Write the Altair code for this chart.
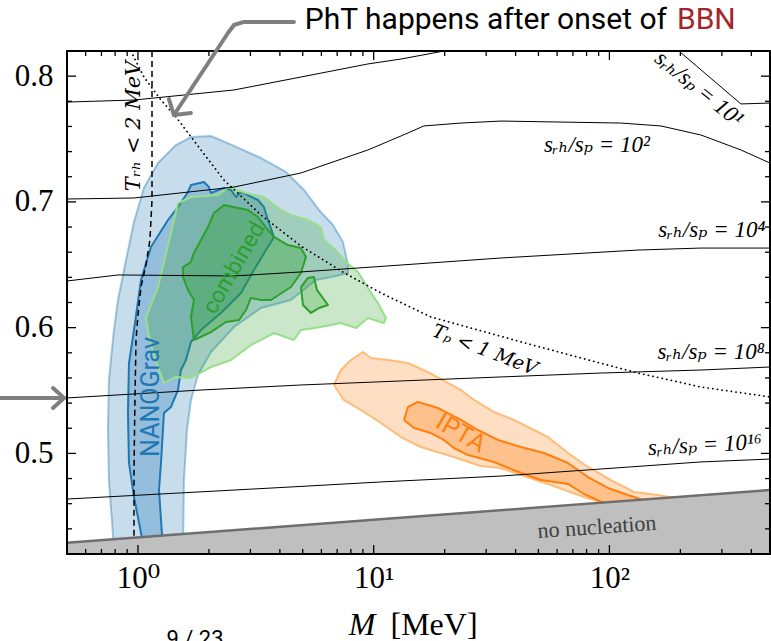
import altair as alt
import pandas as pd

# ---------------- data (M in MeV, y = vertical axis value) ----------------
nano_out_M = [0.791, 0.753, 0.746, 0.753, 0.791, 0.823, 0.881, 0.962, 1.060, 1.216, 1.450, 1.678, 2.040, 2.555,
              3.324, 4.245, 5.060, 5.857, 6.718, 7.406, 7.777, 7.777, 6.917, 5.690, 4.457, 3.324, 2.555, 2.040,
              1.797, 1.678, 1.614, 1.567, 1.552]
nano_out_y = [0.425, 0.4788, 0.5186, 0.5584, 0.5981, 0.622, 0.6498, 0.684, 0.7111, 0.7309, 0.7452, 0.7516, 0.7524,
              0.7445, 0.7349, 0.7238, 0.7095, 0.6936, 0.6816, 0.6681, 0.6498, 0.6435, 0.6411, 0.6379, 0.622, 0.6156,
              0.6005, 0.5806, 0.5623, 0.5425, 0.5186, 0.4788, 0.425]

nano_in_M = [1.060, 0.962, 0.916, 0.907, 0.916, 0.962, 1.030, 1.135, 1.341, 1.478, 1.630, 1.678, 1.905, 2.001,
             2.040, 2.316, 2.480, 2.605, 2.735, 3.228, 3.423, 3.560, 3.775, 3.105, 2.735, 2.249, 1.850, 1.678,
             1.598, 1.522, 1.478, 1.380, 1.289, 1.252, 1.228, 1.276]
nano_in_y = [0.425, 0.4653, 0.4924, 0.5321, 0.5719, 0.5981, 0.6379, 0.6641, 0.6856, 0.6959, 0.7079, 0.7134, 0.7158,
             0.7118, 0.7071, 0.7111, 0.7095, 0.7039, 0.7079, 0.7015, 0.6959, 0.6856, 0.6721, 0.6458, 0.6276, 0.6117,
             0.5981, 0.5886, 0.5743, 0.5663, 0.5504, 0.5369, 0.5321, 0.4924, 0.4709, 0.425]

comb_out_M = [1.102, 1.081, 1.216, 1.380, 1.478, 1.678, 2.184, 2.432, 2.872, 3.423, 4.043, 4.457, 5.262, 5.973,
              6.152, 6.917, 7.627, 8.575, 9.454, 10.42, 11.27, 11.05, 9.454, 8.41, 7.26, 5.973, 4.914, 4.587,
              3.775, 3.016, 2.480, 2.040, 1.678, 1.450, 1.289, 1.216, 1.135]
comb_out_y = [0.5981, 0.6077, 0.6323, 0.6753, 0.6991, 0.7039, 0.7055, 0.7118, 0.7071, 0.7039, 0.6936, 0.6896,
              0.6856, 0.680, 0.6697, 0.6617, 0.6522, 0.6443, 0.6315, 0.6196, 0.6077, 0.6037, 0.6077, 0.5997,
              0.6037, 0.6005, 0.5981, 0.5902, 0.5957, 0.5862, 0.5743, 0.5687, 0.560, 0.5608, 0.556, 0.5687, 0.5862]

comb_in_M = [1.728, 1.678, 1.728, 1.630, 1.552, 1.552, 1.678, 1.728, 1.850, 1.981, 2.101, 2.316, 2.928, 3.228,
             3.560, 3.775, 4.328, 4.914, 5.160, 4.914, 4.457, 3.666, 3.324, 3.016, 2.872, 2.682, 2.362, 2.040]
comb_in_y = [0.5902, 0.6085, 0.622, 0.630, 0.6403, 0.6482, 0.6522, 0.6594, 0.6697, 0.680, 0.6912, 0.6975, 0.6936,
             0.688, 0.6777, 0.6721, 0.6657, 0.6633, 0.6562, 0.6435, 0.6323, 0.622, 0.622, 0.6236, 0.614, 0.606,
             0.6045, 0.5965]

island_M = [4.914, 5.262, 5.579, 5.745, 6.397, 5.857, 5.418, 5.012]
island_y = [0.6323, 0.6395, 0.6403, 0.630, 0.618, 0.6156, 0.6117, 0.618]

ipta_out_M = [6.784, 7.26, 8.01, 9.004, 9.734, 11.49, 13.98, 16.99, 20.65, 23.45, 26.62, 32.36, 39.35, 47.84,
              54.86, 66.7, 81.1, 101.5, 127.1, 160.6, 211.2, 150.0, 101.5, 78.0, 56.5, 42.14, 34.67, 28.51,
              21.89, 15.86, 13.05, 10.73, 8.83, 7.477]
ipta_out_y = [0.5544, 0.5663, 0.5743, 0.5806, 0.5759, 0.5743, 0.5719, 0.5647, 0.556, 0.5504, 0.5425, 0.5329,
              0.5266, 0.5186, 0.513, 0.5003, 0.4892, 0.4788, 0.4693, 0.4669, 0.463, 0.459, 0.459, 0.4653, 0.4749,
              0.4828, 0.4884, 0.490, 0.4971, 0.5051, 0.513, 0.5242, 0.5345, 0.5425]

ipta_in_M = [13.44, 13.98, 15.40, 16.99, 18.73, 20.65, 23.45, 27.68, 33.67, 42.14, 52.76, 66.7, 81.1, 98.6, 119.8,
             147.1, 98.6, 78.0, 66.7, 51.23, 40.12, 32.36, 25.11, 21.89, 19.86, 17.49, 14.82]
ipta_in_y = [0.5266, 0.5369, 0.5409, 0.5385, 0.5361, 0.5321, 0.5266, 0.5186, 0.5107, 0.5051, 0.5003, 0.4924,
             0.4812, 0.4725, 0.4669, 0.4614, 0.459, 0.4677, 0.4757, 0.4788, 0.486, 0.4932, 0.4987, 0.5043,
             0.5107, 0.5162, 0.5202]

# s_rh/s_p contour lines
s1a_M = [0.5, 0.962, 2.555, 4.914, 9.454, 13.05, 19.86]
s1a_y = [0.7794, 0.781, 0.789, 0.7993, 0.8097, 0.8136, 0.82]
s1b_M = [197.2, 361.3, 480]
s1b_y = [0.82, 0.7779, 0.7786]
s2_M = [0.5, 0.962, 2.555, 4.914, 9.454, 13.05, 16.34, 23.45, 34.67, 62.3, 111.9, 165.3, 244.4, 361.3, 480]
s2_y = [0.7023, 0.7031, 0.7118, 0.723, 0.7413, 0.7524, 0.7604, 0.7627, 0.7643, 0.7635, 0.7627, 0.7604, 0.7532,
        0.7413, 0.7309]
s4_M = [0.5, 0.823, 2.555, 4.914, 13.05, 34.67, 132.1, 244.4, 480]
s4_y = [0.6371, 0.6419, 0.6411, 0.6443, 0.6498, 0.6554, 0.6617, 0.6633, 0.6633]
s8_M = [0.5, 1.850, 4.914, 13.05, 34.67, 92.0, 244.4, 480]
s8_y = [0.5441, 0.5504, 0.5544, 0.5576, 0.5608, 0.5639, 0.5663, 0.5687]
s16_M = [0.5, 4.457, 10.73, 34.67, 244.4, 480]
s16_y = [0.4637, 0.4733, 0.4773, 0.482, 0.4932, 0.4955]

trh_M = [1.147, 1.147, 1.124, 1.081, 1.030, 1.000, 0.981, 0.971, 0.962, 0.962]
trh_y = [0.82, 0.7015, 0.6697, 0.6498, 0.6323, 0.6101, 0.5902, 0.5425, 0.4868, 0.4311]
tp_M = [0.933, 1.060, 1.252, 1.450, 1.850, 2.316, 3.324, 4.914, 7.26, 10.73, 17.49, 39.35, 75.7, 132.1, 244.4, 480]
tp_y = [0.82, 0.7993, 0.781, 0.7675, 0.7413, 0.7174, 0.6896, 0.6649, 0.6451, 0.6276, 0.6085, 0.5902, 0.5759,
        0.5639, 0.5528, 0.5449]

# no-nucleation boundary
nonuc_M = [0.5, 480]
nonuc_y = [0.429, 0.4709]
y_floor = 0.42

# ticks
x_major = [1, 10, 100]
x_minor = [0.6, 0.7, 0.8, 0.9, 2, 3, 4, 5, 6, 7, 8, 9, 20, 30, 40, 50, 60, 70, 80, 90, 200, 300, 400]
y_major = [0.5, 0.6, 0.7, 0.8]
y_minor = [0.44, 0.46, 0.48, 0.52, 0.54, 0.56, 0.58, 0.62, 0.64, 0.66, 0.68, 0.72, 0.74, 0.76, 0.78]

# labels
srh_text = ["sᵣₕ/sₚ = 10¹", "sᵣₕ/sₚ = 10²", "sᵣₕ/sₚ = 10⁴", "sᵣₕ/sₚ = 10⁸", "sᵣₕ/sₚ = 10¹⁶"]
srh_M = [240, 88.5, 272, 270, 254]
srh_y = [0.790, 0.7452, 0.6777, 0.5806, 0.5067]
srh_angle = [39, 0, 0, 0, 357]

# annotation arrows (data coordinates)
arrow_top_M = [4.587, 2.816, 2.555, 2.409, 1.421]
arrow_top_y = [0.8431, 0.8431, 0.8407, 0.8343, 0.7691]
head_top_M = [1.353, 1.421, 1.678]
head_top_y = [0.7818, 0.7691, 0.7707]
arrow_left_M = [0.2624, 0.4855]
arrow_left_y = [0.5441, 0.5441]
head_left_M = [0.436, 0.4855, 0.436]
head_left_y = [0.552, 0.5441, 0.5361]

W, H = 703, 503
SERIF = "Liberation Serif, DejaVu Serif, serif"
MATH = "DejaVu Serif, Liberation Serif, serif"
SANS = "Roboto, DejaVu Sans, sans-serif"

XS = alt.Scale(type="log", domain=[0.5, 480], nice=False)
YS = alt.Scale(domain=[0.42, 0.82], nice=False, zero=False)
x_axis = alt.Axis(values=x_major, labelExpr="datum.value < 5 ? '10⁰' : (datum.value < 50 ? '10¹' : '10²')",
                  ticks=False, domain=False, grid=False, title=None, labelFont=SERIF, labelFontSize=31,
                  labelFontWeight="normal", labelPadding=9, labelColor="black", labelFlush=False)
y_axis = alt.Axis(values=y_major, format=".1f", ticks=False, domain=False, grid=False, title=None,
                  labelFont=SERIF, labelFontSize=31, labelFontWeight="normal", labelPadding=14,
                  labelColor="black", labelFlush=False)
X = alt.X("M:Q", scale=XS, axis=x_axis)
Y = alt.Y("y:Q", scale=YS, axis=y_axis)


def frame(M, Yv):
    return pd.DataFrame({"M": M, "y": Yv, "i": list(range(len(M)))})


def polygon(M, Yv, fill, fop, stroke, sop, sw):
    df = frame(list(M) + [M[0]], list(Yv) + [Yv[0]])
    return alt.Chart(df).mark_line(fill=fill, fillOpacity=fop, stroke=stroke, strokeOpacity=sop,
                                   strokeWidth=sw, strokeJoin="round", clip=True).encode(x=X, y=Y, order="i:Q")


def curve(M, Yv, color="black", sw=1.0, dash=None, clip=True, cap="butt"):
    kw = dict(color=color, strokeWidth=sw, clip=clip, strokeCap=cap, strokeJoin="round")
    if dash is not None:
        kw["strokeDash"] = dash
    return alt.Chart(frame(M, Yv)).mark_line(**kw).encode(x=X, y=Y, order="i:Q")


def label(text, M, yv, size, color="black", angle=0, font=SERIF, style="normal", clip=False):
    kw = dict(text=text, fontSize=size, color=color, font=font, fontStyle=style, align="center",
              baseline="middle", clip=clip)
    if angle:
        kw["angle"] = angle
    return alt.Chart(pd.DataFrame({"M": [M], "y": [yv]})).mark_text(**kw).encode(x=X, y=Y)


layers = []
blue, green, orange = "#1f77b4", "#2ca02c", "#ff7f0e"
layers.append(polygon(nano_out_M, nano_out_y, blue, 0.25, blue, 0.4, 2))
layers.append(polygon(nano_in_M, nano_in_y, blue, 0.3, blue, 1.0, 2))
layers.append(polygon(comb_out_M, comb_out_y, green, 0.25, "#98df8a", 1.0, 2))
layers.append(polygon(comb_in_M, comb_in_y, green, 0.35, green, 1.0, 2))
layers.append(polygon(island_M, island_y, green, 0.25, green, 1.0, 2))
layers.append(polygon(ipta_out_M, ipta_out_y, orange, 0.25, "#ffbb78", 1.0, 2))
layers.append(polygon(ipta_in_M, ipta_in_y, orange, 0.3, orange, 1.0, 2))

for mm, yy in [(s1a_M, s1a_y), (s1b_M, s1b_y), (s2_M, s2_y), (s4_M, s4_y), (s8_M, s8_y), (s16_M, s16_y)]:
    layers.append(curve(mm, yy, sw=1.0))
layers.append(curve(trh_M, trh_y, sw=1.5, dash=[6, 4]))
layers.append(curve(tp_M, tp_y, sw=1.8, dash=[0.1, 4.6], cap="round"))

# no nucleation region
gray_df = frame(nonuc_M + [nonuc_M[1], nonuc_M[0], nonuc_M[0]], nonuc_y + [y_floor, y_floor, nonuc_y[0]])
layers.append(alt.Chart(gray_df).mark_line(fill="#bfbfbf", fillOpacity=1, strokeOpacity=0, clip=True)
              .encode(x=X, y=Y, order="i:Q"))
layers.append(curve(nonuc_M, nonuc_y, color="#6e6e6e", sw=2.5))

# labels
srh_df = pd.DataFrame({"M": srh_M, "y": srh_y, "t": srh_text, "a": srh_angle})
layers.append(alt.Chart(srh_df).mark_text(fontSize=23, font=SERIF, fontStyle="italic", color="black",
                                          align="center", baseline="middle")
              .encode(x=X, y=Y, text="t:N", angle=alt.Angle("a:Q", scale=None)))
layers.append(label("Tᵣₕ < 2 MeV", 0.962, 0.7604, 21, angle=270, style="italic", font=MATH))
layers.append(label("Tₚ < 1 MeV", 29.6, 0.5822, 19, angle=21, style="italic", font=MATH))
layers.append(label("no nucleation", 88.5, 0.4415, 22, color="#404040", angle=356))
layers.append(label("NANOGrav", 1.135, 0.5449, 25, color=blue, angle=270, font=SANS))
layers.append(label("combined", 2.555, 0.6474, 23, color=green, angle=300, font=SANS))
layers.append(label("IPTA", 23.45, 0.5162, 25, color=orange, angle=30, font=SANS))

# ticks (inward) on all four sides
xt_major = pd.DataFrame({"M": x_major})
xt_minor = pd.DataFrame({"M": x_minor})
yt_major = pd.DataFrame({"y": y_major})
yt_minor = pd.DataFrame({"y": y_minor})
for df, L in [(xt_major, 9), (xt_minor, 5)]:
    layers.append(alt.Chart(df).mark_rule(color="black", strokeWidth=1.3)
                  .encode(x=X, y=alt.value(H), y2=alt.value(H - L)))
    layers.append(alt.Chart(df).mark_rule(color="black", strokeWidth=1.3)
                  .encode(x=X, y=alt.value(0), y2=alt.value(L)))
for df, L in [(yt_major, 9), (yt_minor, 5)]:
    layers.append(alt.Chart(df).mark_rule(color="black", strokeWidth=1.3)
                  .encode(y=Y, x=alt.value(0), x2=alt.value(L)))
    layers.append(alt.Chart(df).mark_rule(color="black", strokeWidth=1.3)
                  .encode(y=Y, x=alt.value(W), x2=alt.value(W - L)))

# frame
layers.append(alt.Chart(pd.DataFrame({"k": [0]})).mark_rect(filled=False, stroke="black", strokeWidth=2)
              .encode(x=alt.value(0), x2=alt.value(W), y=alt.value(0), y2=alt.value(H)))

# annotations
layers.append(curve(arrow_top_M, arrow_top_y, color="#7f7f7f", sw=4, clip=False, cap="round"))
layers.append(curve(head_top_M, head_top_y, color="#7f7f7f", sw=4, clip=False, cap="round"))
layers.append(curve(arrow_left_M, arrow_left_y, color="#7f7f7f", sw=4, clip=False, cap="round"))
layers.append(curve(head_left_M, head_left_y, color="#7f7f7f", sw=4, clip=False, cap="round"))
top_df = pd.DataFrame({"M": [175.4], "y": [0.8447]})
layers.append(alt.Chart(top_df).mark_text(text="PhT happens after onset of", font=SANS, fontSize=30,
                                          color="black", align="right", baseline="middle")
              .encode(x=X, y=Y))
bbn_df = pd.DataFrame({"M": [193.4], "y": [0.8447]})
layers.append(alt.Chart(bbn_df).mark_text(text="BBN", font=SANS, fontSize=30, color="#a3262a",
                                          align="left", baseline="middle")
              .encode(x=X, y=Y))

# x-axis title and page number (outside plot)
one = pd.DataFrame({"k": [0]})
layers.append(alt.Chart(one).mark_text(text="M", font=SERIF, fontSize=32, fontStyle="italic", color="black",
                                       align="center", baseline="alphabetic")
              .encode(x=alt.value(362 - 67), y=alt.value(635 - 51)))
layers.append(alt.Chart(one).mark_text(text="[MeV]", font=SERIF, fontSize=32, color="black",
                                       align="center", baseline="alphabetic")
              .encode(x=alt.value(434 - 67), y=alt.value(635 - 51)))
layers.append(alt.Chart(one).mark_text(text="9 / 23", font=SANS, fontSize=22, color="black",
                                       align="center", baseline="alphabetic")
              .encode(x=alt.value(195 - 67), y=alt.value(646 - 51)))

chart = alt.layer(*layers).properties(
    width=W, height=H,
    autosize=alt.AutoSizeParams(type="none"),
    padding={"left": 67, "top": 51, "right": 1, "bottom": 87},
).configure_view(strokeWidth=0)

chart.save("out.html", embed_options={"renderer": "svg", "actions": False})
